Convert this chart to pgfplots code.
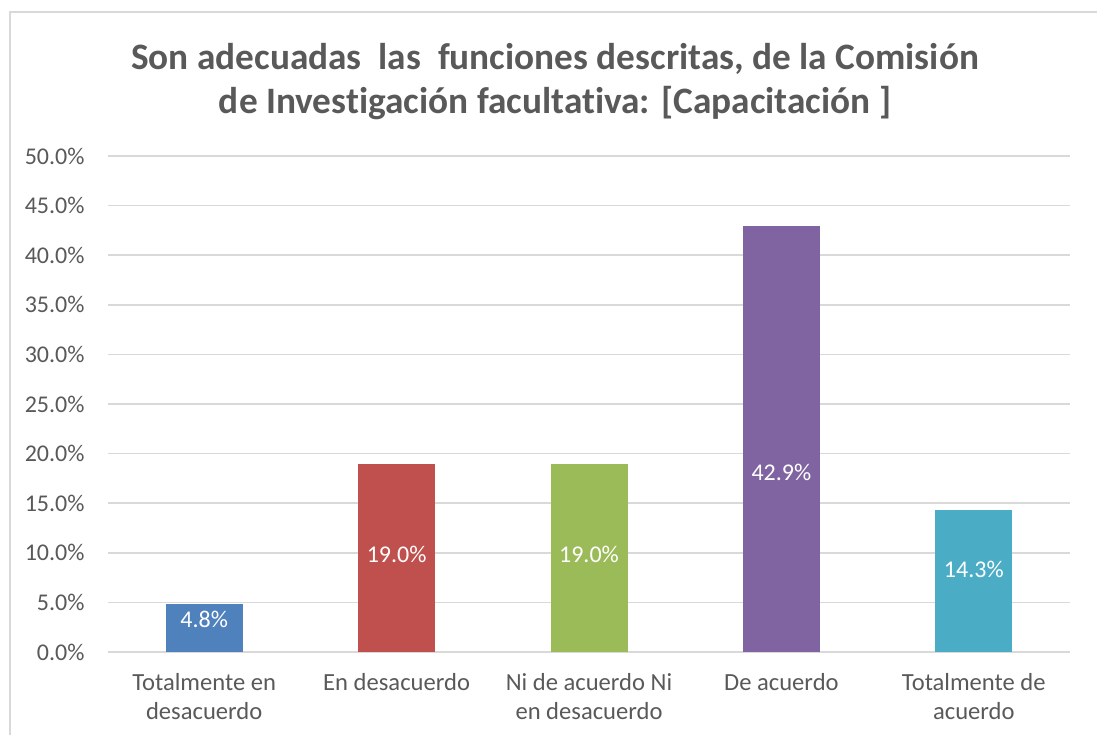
\documentclass[border=0pt]{standalone}
\usepackage{fontspec}
\setmainfont{Carlito}[Ligatures=NoCommon]
\usepackage{pgfplots}
\pgfplotsset{compat=1.18}
\definecolor{txt}{HTML}{595959}
\definecolor{gridc}{HTML}{D9D9D9}
\definecolor{c1}{HTML}{4F81BD}
\definecolor{c2}{HTML}{C0504D}
\definecolor{c3}{HTML}{9BBB59}
\definecolor{c4}{HTML}{8064A2}
\definecolor{c5}{HTML}{4BACC6}
\begin{document}
\begin{tikzpicture}
\useasboundingbox (0pt,0pt) rectangle (1097pt,-734pt);
\draw[gridc, line width=1.5pt] (10pt,-740pt) -- (10pt,-12pt) -- (1100pt,-12pt);
\node[txt, font=\fontsize{37.3}{44}\selectfont\bfseries, align=center] at (555pt,-81.5pt)
  {Son adecuadas\ \ las\ \ funciones descritas, de la Comisión\\de Investigación facultativa: [Capacitación ]};
\begin{axis}[
  at={(108pt,-652pt)}, anchor=south west,
  width=962pt, height=496pt, scale only axis,
  xmin=-0.5, xmax=4.5, ymin=0, ymax=50,
  axis line style={draw=none},
  major tick length=0pt,
  ymajorgrids, grid style={gridc, line width=1.5pt},
  xtick={0,1,2,3,4},
  xticklabels={{Totalmente en\\desacuerdo},{En desacuerdo},{Ni de acuerdo Ni\\en desacuerdo},{De acuerdo},{Totalmente de\\acuerdo}},
  ytick={0,5,10,15,20,25,30,35,40,45,50},
  yticklabels={0.0\%,5.0\%,10.0\%,15.0\%,20.0\%,25.0\%,30.0\%,35.0\%,40.0\%,45.0\%,50.0\%},
  tick label style={txt, font=\fontsize{24}{29}\selectfont},
  xticklabel style={align=center, anchor=north, yshift=-18pt, font=\fontsize{24.6}{29}\selectfont},
  yticklabel style={anchor=east, xshift=-20pt},
  ybar, bar width=77pt, bar shift=0pt,
  clip=false,
]
\addplot[fill=c1, draw=none] coordinates {(0,4.8)};
\addplot[fill=c2, draw=none] coordinates {(1,19.0)};
\addplot[fill=c3, draw=none] coordinates {(2,19.0)};
\addplot[fill=c4, draw=none] coordinates {(3,42.9)};
\addplot[fill=c5, draw=none] coordinates {(4,14.3)};
\node[white, font=\fontsize{24}{29}\selectfont] at (axis cs:0,3.3) {4.8\%};
\node[white, font=\fontsize{24}{29}\selectfont] at (axis cs:1,9.8) {19.0\%};
\node[white, font=\fontsize{24}{29}\selectfont] at (axis cs:2,9.8) {19.0\%};
\node[white, font=\fontsize{24}{29}\selectfont] at (axis cs:3,18.1) {42.9\%};
\node[white, font=\fontsize{24}{29}\selectfont] at (axis cs:4,8.3) {14.3\%};
\end{axis}
\end{tikzpicture}
\end{document}
